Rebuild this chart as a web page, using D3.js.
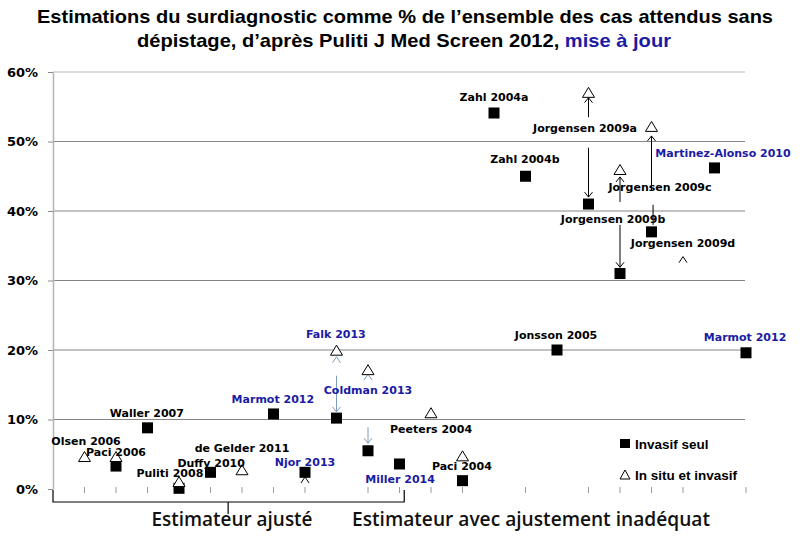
<!DOCTYPE html>
<html>
<head>
<meta charset="utf-8">
<script src="https://cdn.jsdelivr.net/npm/d3@7"></script>
<style>
  body { margin: 0; background: #fff; }
  .lbl { font-family: "DejaVu Sans", Verdana, sans-serif; font-weight: bold; font-size: 11px; }
  .ytick text { font-family: "DejaVu Sans", Verdana, sans-serif; font-weight: bold; font-size: 13px; fill: #000; }
</style>
</head>
<body>
<div id="chart"></div>
<script>
// studies, one per x position (1..22)
var studies = ["Olsen 2006", "Paci 2006", "Waller 2007", "Puliti 2008", "Duffy 2010", "de Gelder 2011",
  "Marmot 2012", "Njor 2013", "Falk 2013", "Coldman 2013", "Miller 2014", "Peeters 2004", "Paci 2004",
  "Zahl 2004a", "Zahl 2004b", "Jonsson 2005", "Jorgensen 2009a", "Jorgensen 2009c", "Jorgensen 2009b",
  "Jorgensen 2009d", "Martinez-Alonso 2010", "Marmot 2012"];
// updated studies shown in blue
var updated = [false, false, false, false, false, false, true, true, true, true, true, false, false,
  false, false, false, false, false, false, false, true, true];
// % overdiagnosis, invasive only (squares)
var invasifSeul = [null, 3.3, 8.8, 0.1, 2.4, null, 10.8, 2.4, 10.2, 5.5, 3.6, null, 1.2,
  54.1, 45.0, 20.0, 41.0, 31.0, 37.0, null, 46.2, 19.6];
// % overdiagnosis, in situ + invasive (triangles)
var inSituInvasif = [4.6, 4.6, null, 1.0, null, 2.7, null, null, 19.9, 17.1, null, 10.9, 4.7,
  null, null, null, 57.0, 45.9, 52.1, null, null, null];
// leftover arrow heads ("^") drawn in the original
var chevrons = [{pos: 8, v: 1.3}, {pos: 9, v: 18.6}, {pos: 10, v: 16.1}, {pos: 20, v: 33.0}];
// arrows between the two estimates
var arrows = [
  {pos: 9, from: 16.3, to: 11.1, head: true, blue: true},
  {pos: 10, from: 8.9, to: 6.6, head: true, blue: true},
  {pos: 17, from: 53.5, to: 56.3, head: true},
  {pos: 17, from: 49.1, to: 42.0, head: true},
  {pos: 18, from: 41.3, to: 44.9, head: true},
  {pos: 18, from: 38.0, to: 31.9, head: true},
  {pos: 19, from: 43.0, to: 50.8, head: true},
  {pos: 19.05, from: 40.9, to: 38.0, head: false}
];
var yTicks = [0, 10, 20, 30, 40, 50, 60];
var tickPos = [1, 2, 3, 4, 5, 6, 7, 8, 10, 11, 12, 13, 15, 17, 18, 19, 20, 22];

// label layout (x in position units, y in % units)
var labelX = [1.05, 2.0, 2.98, 3.71, 5.02, 6.0, 6.98, 8.0, 8.98, 10.0, 11.02, 12.0, 12.98,
  14.0, 14.98, 15.97, 16.89, 19.27, 17.78, 20.0, 21.27, 21.97];
var labelY = [6.3, 4.75, 10.4, 1.75, 3.2, 5.3, 12.4, 3.3, 21.7, 13.7, 0.86, 8.06, 2.73,
  55.8, 46.9, 21.6, 51.4, 42.9, 38.3, 34.8, 47.8, 21.3];

var blue = "#1b1ba3", arrowBlue = "#7d9dbf";

var svg = d3.select("#chart").append("svg")
  .attr("width", 810)
  .attr("height", 540);

var x = d3.scaleLinear().domain([0, 22]).range([53, 746]);
var y = d3.scaleLinear().domain([0, 60]).range([489, 72]);

// arrow markers
var defs = svg.append("defs");
[["headBlack", "#000"], ["headBlue", arrowBlue]].forEach(function(m) {
  defs.append("marker")
    .attr("id", m[0])
    .attr("viewBox", "-6 -5 7 10")
    .attr("refX", 0).attr("refY", 0)
    .attr("markerWidth", 7).attr("markerHeight", 10)
    .attr("markerUnits", "userSpaceOnUse")
    .attr("orient", "auto")
    .append("path")
    .attr("d", "M-5,-4 L0,0 L-5,4")
    .attr("fill", "none")
    .attr("stroke", m[1])
    .attr("stroke-width", 1);
});

// title
var title = svg.append("g")
  .attr("font-family", "'Liberation Sans Narrow', 'Liberation Sans', Arial, sans-serif")
  .attr("font-weight", "bold")
  .attr("font-size", "19px")
  .attr("text-anchor", "middle");
title.append("text").attr("x", 405).attr("y", 23)
  .attr("textLength", 736).attr("lengthAdjust", "spacingAndGlyphs")
  .text("Estimations du surdiagnostic comme % de l’ensemble des cas attendus sans");
var t2 = title.append("text").attr("x", 404).attr("y", 47)
  .attr("textLength", 534).attr("lengthAdjust", "spacingAndGlyphs");
t2.append("tspan").text("dépistage, d’après Puliti J Med Screen 2012, ");
t2.append("tspan").attr("fill", blue).text("mise à jour");

// gridlines
svg.append("g").selectAll("line")
  .data(yTicks.filter(d => d > 0))
  .join("line")
  .attr("x1", 53).attr("x2", 745)
  .attr("y1", d => y(d)).attr("y2", d => y(d))
  .attr("stroke", d => d === 60 ? "#b8b8b8" : "#858585")
  .attr("stroke-width", 1.2);

// y axis
var yAxis = svg.append("g")
  .attr("class", "ytick")
  .attr("transform", "translate(53,0)")
  .call(d3.axisLeft(y).tickValues(yTicks).tickSize(5).tickSizeOuter(0).tickPadding(10)
    .tickFormat(d => d + "%"));
yAxis.select(".domain").attr("stroke", "#b4b4b4").attr("stroke-width", 1.5);
yAxis.selectAll(".tick line").attr("stroke", "#8a8a8a");
yAxis.selectAll(".tick text").attr("dy", "0.32em");

// small x ticks along 0%
svg.append("g").selectAll("line")
  .data(tickPos)
  .join("line")
  .attr("x1", d => x(d)).attr("x2", d => x(d))
  .attr("y1", y(0) - 2).attr("y2", y(0) + 4)
  .attr("stroke", "#9a9a9a");

// bracket under the adjusted estimators
svg.append("path")
  .attr("d", `M${x(0)},${y(0) + 1} V502 H${x(11.15)} V${y(0) + 1} M${x(5.56)},502 V514`)
  .attr("fill", "none")
  .attr("stroke", "#000")
  .attr("stroke-width", 1.2);

// arrows
svg.append("g").selectAll("line")
  .data(arrows)
  .join("line")
  .attr("x1", d => x(d.pos)).attr("x2", d => x(d.pos))
  .attr("y1", d => y(d.from)).attr("y2", d => y(d.to))
  .attr("stroke", d => d.blue ? arrowBlue : "#000")
  .attr("stroke-width", 1)
  .attr("marker-end", d => d.head ? (d.blue ? "url(#headBlue)" : "url(#headBlack)") : null);

// chevrons
svg.append("g").selectAll("path")
  .data(chevrons)
  .join("path")
  .attr("transform", d => `translate(${x(d.pos)},${y(d.v)})`)
  .attr("d", "M-4,3 L0,-3 L4,3")
  .attr("fill", "none")
  .attr("stroke", d => (d.pos === 9 || d.pos === 10) ? arrowBlue : "#000")
  .attr("stroke-width", 1);

// squares: invasive only
var sqData = invasifSeul.map((v, i) => ({pos: i + 1, v: v})).filter(d => d.v !== null);
svg.append("g").selectAll("rect")
  .data(sqData)
  .join("rect")
  .attr("x", d => x(d.pos) - 5.5)
  .attr("y", d => y(d.v) - 5.5)
  .attr("width", 11).attr("height", 11)
  .attr("fill", "#000");

// triangles: in situ + invasive
var triData = inSituInvasif.map((v, i) => ({pos: i + 1, v: v})).filter(d => d.v !== null);
svg.append("g").selectAll("path")
  .data(triData)
  .join("path")
  .attr("transform", d => `translate(${x(d.pos)},${y(d.v)})`)
  .attr("d", "M0,-5.5 L6,4.5 L-6,4.5 Z")
  .attr("fill", "#fff")
  .attr("stroke", "#000")
  .attr("stroke-width", 1);

// study labels
svg.append("g").selectAll("text")
  .data(studies)
  .join("text")
  .attr("class", "lbl")
  .attr("text-anchor", "middle")
  .attr("x", (d, i) => x(labelX[i]))
  .attr("y", (d, i) => y(labelY[i]))
  .attr("fill", (d, i) => updated[i] ? blue : "#000")
  .text(d => d);

// legend
var legend = svg.append("g")
  .attr("font-family", "'Liberation Sans', Arial, sans-serif")
  .attr("font-weight", "bold")
  .attr("font-size", "13.5px");
legend.append("rect").attr("x", 620).attr("y", 439).attr("width", 10).attr("height", 9).attr("fill", "#000");
legend.append("text").attr("x", 635).attr("y", 449).text("Invasif seul");
legend.append("path").attr("d", "M625,470 L630,479 L620,479 Z").attr("fill", "#fff").attr("stroke", "#000");
legend.append("text").attr("x", 635).attr("y", 480).text("In situ et invasif");

// bottom group labels
var groups = svg.append("g")
  .attr("font-family", "'Open Sans', sans-serif")
  .attr("font-size", "19px")
  .attr("font-weight", "600")
  .attr("fill", "#111")
  .attr("text-anchor", "middle");
groups.append("text").attr("x", 232).attr("y", 526)
  .attr("textLength", 161).attr("lengthAdjust", "spacingAndGlyphs")
  .text("Estimateur ajusté");
groups.append("text").attr("x", 531).attr("y", 526)
  .attr("textLength", 358).attr("lengthAdjust", "spacingAndGlyphs")
  .text("Estimateur avec ajustement inadéquat");
</script>
</body>
</html>
